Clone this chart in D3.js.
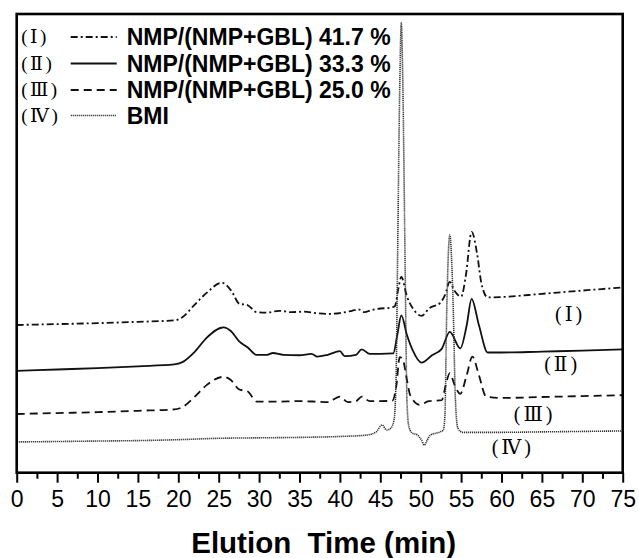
<!DOCTYPE html>
<html>
<head>
<meta charset="utf-8">
<script src="https://cdn.jsdelivr.net/npm/d3@7"></script>
<style>
  body { margin: 0; background: #fff; }
  svg { display: block; }
</style>
</head>
<body>
<div id="chart"></div>
<script>
// elution time (min) vs detector signal (arbitrary units)
var seriesI = [[0,32.2],[5,32.4],[10,32.6],[15,32.9],[19.5,33.2],[20.5,33.9],[22,36.6],[23.5,39.2],[25.4,41.4],[26.5,39.8],[27.6,36.8],[28.5,36.6],[29.7,35.0],[31,34.9],[32.5,35.3],[34,35.0],[35.5,35.1],[37,34.8],[38.5,34.6],[40,34.8],[41.5,35.3],[42.3,35.6],[43,35.0],[44,35.5],[45,35.8],[46,35.9],[46.8,36.3],[47.2,39.8],[47.6,42.7],[48.3,38.4],[49,35.9],[50.1,34.2],[51.1,35.9],[52.4,37.0],[53.0,38.7],[53.6,41.6],[54.2,39.6],[55.0,38.4],[55.6,43.1],[56.3,52.5],[57.0,47.5],[57.5,41.4],[58.3,38.2],[60,38.3],[65,39.0],[70,39.7],[75,40.4]];
var seriesII = [[0,22.2],[5,22.5],[10,22.8],[15,23.2],[19.5,23.6],[20.5,24.1],[22,26.3],[23.5,29.4],[25.6,31.7],[26.5,30.9],[27.5,28.7],[28.6,27.3],[29.7,25.7],[31,25.7],[31.7,26.1],[33,25.7],[35,25.6],[36.5,25.9],[37.2,25.3],[38.5,25.7],[40,26.5],[40.6,25.4],[42,25.7],[42.7,26.9],[43.7,25.9],[45,25.9],[46.6,26.0],[47.1,30.0],[47.6,34.3],[48.3,30.0],[49,26.7],[50.1,24.0],[51.4,25.6],[52.6,27.0],[53.6,30.7],[54.9,27.1],[55.7,32.2],[56.3,37.9],[57.2,32.2],[58.3,26.2],[60,26.2],[65,26.4],[70,26.6],[75,26.9]];
var seriesIII = [[0,12.8],[5,13.0],[10,13.2],[15,13.5],[19.5,13.8],[20.5,14.3],[22,16.5],[23.5,19.1],[25.6,20.9],[26.5,20.2],[27.5,18.2],[28.6,17.7],[29.7,15.5],[32,15.5],[35,15.6],[37,15.5],[38.5,15.4],[40,16.6],[41,15.4],[42,15.6],[42.7,16.6],[43.7,15.6],[45,15.6],[46.5,15.7],[47.0,19.1],[47.4,25.2],[47.8,24.6],[48.3,20.2],[48.7,16.9],[49.9,14.8],[51,15.6],[52.6,15.8],[53.1,19.1],[53.6,21.7],[54.2,19.1],[54.9,17.2],[55.7,21.3],[56.4,25.3],[57.2,21.3],[58.1,16.6],[60,16.3],[65,16.5],[70,16.7],[75,16.9]];
var seriesIV = [[0,6.7],[5,6.8],[10,6.9],[15,7.0],[20,7.2],[25,7.5],[30,7.6],[35,7.7],[40,7.9],[43.3,8.2],[44.5,8.9],[45.2,10.4],[45.8,9.3],[46.3,9.7],[46.7,11.5],[46.95,20.2],[47.15,48.6],[47.4,83.4],[47.6,98.0],[47.8,83.4],[48.05,48.6],[48.3,15.8],[48.5,10.4],[48.9,8.7],[49.6,8.2],[50.1,7.1],[50.45,6.0],[50.8,7.1],[51.2,8.2],[52.4,8.9],[52.8,9.3],[53.0,12.6],[53.2,33.3],[53.6,51.8],[54.0,37.6],[54.3,15.8],[54.6,9.7],[55.2,8.8],[60,8.8],[65,8.9],[70,9.0],[75,9.1]];

var seriesNames = ["NMP/(NMP+GBL) 41.7 %", "NMP/(NMP+GBL) 33.3 %", "NMP/(NMP+GBL) 25.0 %", "BMI"];
var seriesTags = ["(Ⅰ)", "(Ⅱ)", "(Ⅲ)", "(Ⅳ)"];
var xTicks = d3.range(0, 76, 5);
var xMinorTicks = d3.range(2.5, 75, 5);

var W = 639, H = 558;
var margin = { top: 14, right: 16.3, bottom: 85.3, left: 16.7 },
    width = W - margin.left - margin.right,
    height = H - margin.top - margin.bottom;

var svg = d3.select("#chart").append("svg")
    .attr("width", W)
    .attr("height", H)
    .append("g")
    .attr("transform", "translate(" + margin.left + "," + margin.top + ")");

var x = d3.scaleLinear().domain([0, 75]).range([0, width]);
var y = d3.scaleLinear().domain([0, 100]).range([height, 0]);

var styles = [
    { dash: "7,3,2,3", w: 1.8, color: "#111" },
    { dash: null, w: 1.8, color: "#111" },
    { dash: "8,5", w: 1.8, color: "#111" },
    { dash: "1.2,0.8", w: 1.6, color: "#333" }
];
var allSeries = [seriesI, seriesII, seriesIII, seriesIV];

var line = d3.line()
    .x(function (d) { return x(d[0]) })
    .y(function (d) { return y(d[1]) })
    .curve(d3.curveMonotoneX);

allSeries.forEach(function (s, i) {
    svg.append("path")
        .datum(s)
        .attr("fill", "none")
        .attr("stroke", styles[i].color)
        .attr("stroke-width", styles[i].w)
        .attr("stroke-dasharray", styles[i].dash)
        .attr("d", line);
});

// bottom axis, major + minor ticks
var xAxis = svg.append("g")
    .attr("transform", "translate(0," + height + ")")
    .call(d3.axisBottom(x).tickValues(xTicks).tickSize(10).tickPadding(8).tickFormat(d3.format("d")));
xAxis.select(".domain").remove();
xAxis.selectAll(".tick line").attr("stroke", "#000").attr("stroke-width", 2);
xAxis.selectAll(".tick text")
    .style("font-family", "Arial, 'Liberation Sans', sans-serif")
    .style("font-size", "23px")
    .attr("fill", "#000");

var xMinor = svg.append("g")
    .attr("transform", "translate(0," + height + ")")
    .call(d3.axisBottom(x).tickValues(xMinorTicks).tickSize(6).tickFormat(""));
xMinor.select(".domain").remove();
xMinor.selectAll(".tick line").attr("stroke", "#000").attr("stroke-width", 2);

// frame
svg.append("rect")
    .attr("x", 0).attr("y", 0)
    .attr("width", width).attr("height", height)
    .attr("fill", "none")
    .attr("stroke", "#000")
    .attr("stroke-width", 2.6);

// axis title
svg.append("text")
    .attr("x", width / 2 + 4)
    .attr("y", 553 - margin.top)
    .attr("text-anchor", "middle")
    .style("font-family", "Arial, 'Liberation Sans', sans-serif")
    .style("font-weight", "bold")
    .style("font-size", "29.5px")
    .attr("xml:space", "preserve")
    .text("Elution  Time (min)");

// legend
var legend = svg.append("g");
var rowY = [23, 49.5, 76, 101.5];
seriesNames.forEach(function (name, i) {
    var g = legend.append("g").attr("transform", "translate(0," + rowY[i] + ")");
    g.append("text")
        .attr("x", 4.5).attr("y", 6)
        .style("font-family", "'Times New Roman', 'Liberation Serif', 'DejaVu Serif', serif")
        .style("font-size", "19px")
        .style("letter-spacing", "2.5px")
        .text(seriesTags[i]);
    g.append("line")
        .attr("x1", 54).attr("x2", 100)
        .attr("y1", 0).attr("y2", 0)
        .attr("stroke", styles[i].color)
        .attr("stroke-width", styles[i].w)
        .attr("stroke-dasharray", styles[i].dash);
    g.append("text")
        .attr("x", 110).attr("y", 8)
        .style("font-family", "Arial, 'Liberation Sans', sans-serif")
        .style("font-weight", "bold")
        .style("font-size", "23px")
        .text(name);
});

// curve tags inside the plot
var tagPos = [[68.5, 33.0], [67.5, 22.1], [64.1, 11.3], [61.4, 4.1]];
seriesTags.forEach(function (t, i) {
    svg.append("text")
        .attr("x", x(tagPos[i][0]))
        .attr("y", y(tagPos[i][1]))
        .attr("text-anchor", "middle")
        .style("font-family", "'Times New Roman', 'Liberation Serif', 'DejaVu Serif', serif")
        .style("font-size", "20px")
        .style("letter-spacing", "3px")
        .text(t);
});
</script>
</body>
</html>
